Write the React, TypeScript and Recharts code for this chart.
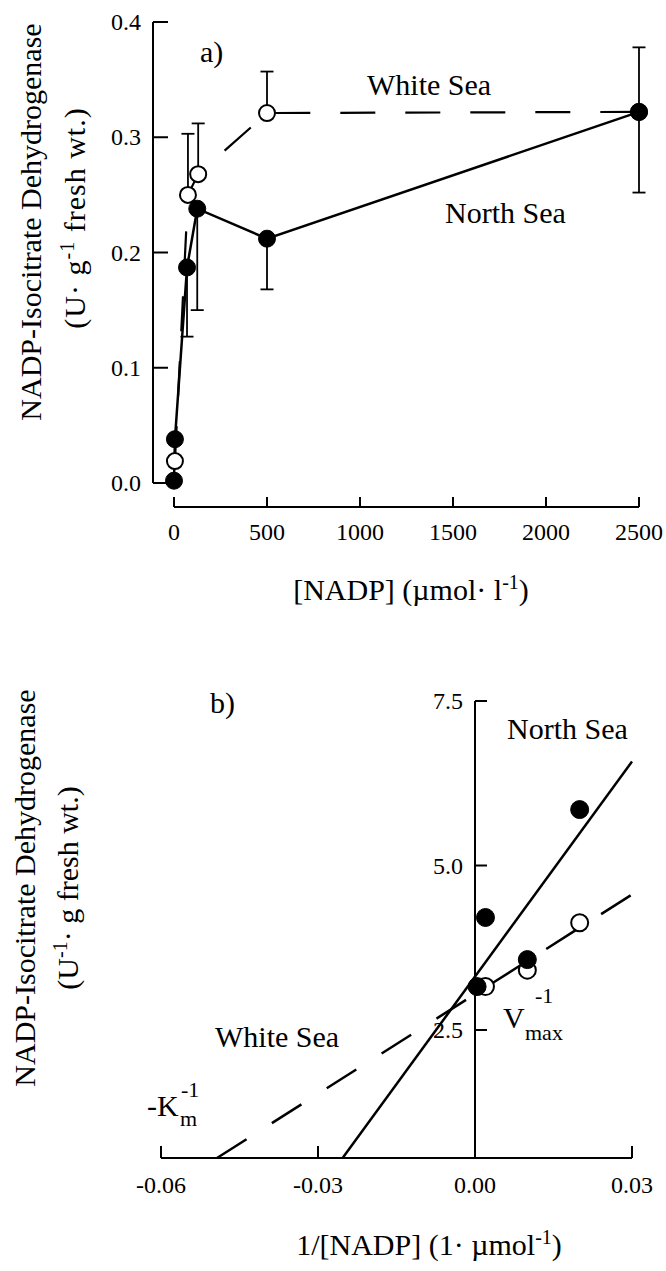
import React from 'react';
import { ComposedChart, Line, XAxis, YAxis, ErrorBar, ReferenceLine } from 'recharts';

// a) enzyme activity vs [NADP]
const nadpNorth = [0, 5, 70, 125, 500, 2500];
const actNorth = [0.002, 0.038, 0.187, 0.238, 0.212, 0.322];
const sdNorth = [null, null, 0.06, 0.088, 0.044, 0.07]; // drawn downward
const nadpWhite = [5, 75, 130, 500, 2500];
const actWhite = [0.019, 0.25, 0.268, 0.321, 0.322];
const sdWhite = [null, 0.053, 0.044, 0.036, 0.056]; // drawn upward
const xTicksA = [0, 500, 1000, 1500, 2000, 2500];
const yTicksA = [0, 0.1, 0.2, 0.3, 0.4];

// b) double reciprocal plot
const invNadpNorth = [0.0004, 0.002, 0.01, 0.02];
const invActNorth = [3.16, 4.21, 3.57, 5.85];
const invNadpWhite = [0.002, 0.01, 0.02];
const invActWhite = [3.16, 3.41, 4.13];
const fitXNorth = [-0.0253, 0.03];
const fitYNorth = [0.555, 6.58];
const fitXWhite = [-0.0493, 0.03];
const fitYWhite = [0.555, 4.56];
const xTicksB = [-0.06, -0.03, 0, 0.03];
const yTicksB = [2.5, 5.0, 7.5];

const FONT = "'Liberation Serif', 'Times New Roman', serif";
const tickText = { fontFamily: FONT, fontSize: 24, fill: '#000' };

const northA = nadpNorth.map((x, i) => ({ x, y: actNorth[i], err: sdNorth[i] == null ? null : [sdNorth[i], 0] }));
const whiteA = nadpWhite.map((x, i) => ({ x, y: actWhite[i], err: sdWhite[i] == null ? null : [0, sdWhite[i]] }));
const northB = invNadpNorth.map((x, i) => ({ x, y: invActNorth[i] }));
const whiteB = invNadpWhite.map((x, i) => ({ x, y: invActWhite[i] }));
const fitNorth = fitXNorth.map((x, i) => ({ x, y: fitYNorth[i] }));
const fitWhite = fitXWhite.map((x, i) => ({ x, y: fitYWhite[i] }));

const axisStyle = { stroke: '#000', strokeWidth: 2 };
const filledDot = { r: 8.5, fill: '#000', stroke: '#000', strokeWidth: 1, strokeDasharray: 'none' };
const openDot = { r: 8, fill: '#fff', stroke: '#000', strokeWidth: 2, strokeDasharray: 'none' };

const xTickA = (p: any) => (
  <text x={p.x} y={540} textAnchor="middle" style={tickText}>
    {p.payload.value}
  </text>
);
const yTickA = (p: any) => (
  <text x={141} y={p.y + 8} textAnchor="end" style={tickText}>
    {Number(p.payload.value).toFixed(1)}
  </text>
);
const xTickB = (p: any) => (
  <text x={p.x} y={553} textAnchor="middle" style={tickText}>
    {Number(p.payload.value).toFixed(2)}
  </text>
);
const yTickB = (p: any) => (
  <text x={463} y={p.y + 8} textAnchor="end" style={tickText}>
    {Number(p.payload.value).toFixed(1)}
  </text>
);

export default function App() {
  return (
    <div style={{ position: 'absolute', left: 0, top: 0, width: 666, height: 1271, background: '#fff' }}>
      <div style={{ position: 'absolute', left: 0, top: 0 }}>
        <ComposedChart width={666} height={640} margin={{ top: 22, right: 27, bottom: 156, left: 173 }}>
          <XAxis
            type="number"
            dataKey="x"
            domain={[0, 2500]}
            ticks={xTicksA}
            interval={0}
            height={1}
            tickSize={-10}
            axisLine={{ ...axisStyle, transform: 'translate(0,24)' }}
            tickLine={{ ...axisStyle, transform: 'translate(0,24)' }}
            tick={xTickA}
          />
          <YAxis
            type="number"
            domain={[0, 0.4]}
            ticks={yTicksA}
            interval={0}
            width={1}
            tickSize={-15}
            axisLine={{ ...axisStyle, transform: 'translate(-21,0)' }}
            tickLine={{ ...axisStyle, transform: 'translate(-21,0)' }}
            tick={yTickA}
          />
          <Line
            data={whiteA}
            dataKey="y"
            stroke="#000"
            strokeWidth={2.2}
            strokeDasharray="35 30"
            dot={openDot}
            activeDot={false}
            isAnimationActive={false}
          >
            <ErrorBar dataKey="err" width={6.5} stroke="#000" strokeWidth={1.8} direction="y" />
          </Line>
          <Line
            data={northA}
            dataKey="y"
            stroke="#000"
            strokeWidth={2.5}
            dot={filledDot}
            activeDot={false}
            isAnimationActive={false}
          >
            <ErrorBar dataKey="err" width={6.5} stroke="#000" strokeWidth={1.8} direction="y" />
          </Line>
        </ComposedChart>
      </div>

      <div style={{ position: 'absolute', left: 0, top: 640 }}>
        <ComposedChart width={666} height={631} margin={{ top: 61, right: 34, bottom: 112, left: 160 }}>
          <XAxis
            type="number"
            dataKey="x"
            domain={[-0.06, 0.03]}
            ticks={xTicksB}
            interval={0}
            height={1}
            tickSize={-12}
            axisLine={axisStyle}
            tickLine={axisStyle}
            tick={xTickB}
          />
          <YAxis
            type="number"
            domain={[0.555, 7.5]}
            ticks={yTicksB}
            interval={0}
            width={1}
            tickSize={-12}
            axisLine={false}
            tickLine={{ ...axisStyle, transform: 'translate(314,0)' }}
            tick={yTickB}
          />
          <ReferenceLine x={0} stroke="#000" strokeWidth={2} />
          <Line
            data={whiteB}
            dataKey="y"
            stroke="none"
            dot={{ r: 8.5, fill: '#fff', stroke: '#000', strokeWidth: 2 }}
            activeDot={false}
            isAnimationActive={false}
          />
          <Line
            data={fitWhite}
            dataKey="y"
            stroke="#000"
            strokeWidth={2.5}
            strokeDasharray="35 30"
            dot={false}
            activeDot={false}
            isAnimationActive={false}
          />
          <Line
            data={fitNorth}
            dataKey="y"
            stroke="#000"
            strokeWidth={2.5}
            dot={false}
            activeDot={false}
            isAnimationActive={false}
          />
          <Line
            data={northB}
            dataKey="y"
            stroke="none"
            dot={{ r: 9, fill: '#000', stroke: '#000', strokeWidth: 1 }}
            activeDot={false}
            isAnimationActive={false}
          />
        </ComposedChart>
      </div>

      <svg
        width={666}
        height={1271}
        style={{ position: 'absolute', left: 0, top: 0, pointerEvents: 'none', fontFamily: FONT }}
        fontSize={30}
        fill="#000"
      >
        {/* panel a */}
        <text x={200} y={62}>a)</text>
        <text x={367} y={95}>White Sea</text>
        <text x={445} y={223}>North Sea</text>
        <text x={411} y={600} textAnchor="middle">
          [NADP] (µmol· l<tspan dy={-11} fontSize={20}>-1</tspan>
          <tspan dy={11}>)</tspan>
        </text>
        <text transform="translate(41,222) rotate(-90)" textAnchor="middle">
          NADP-Isocitrate Dehydrogenase
        </text>
        <text transform="translate(85,218) rotate(-90)" textAnchor="middle" letterSpacing={1}>
          (U· g<tspan dy={-11} fontSize={20}>-1</tspan>
          <tspan dy={11}> fresh wt.)</tspan>
        </text>

        {/* panel b */}
        <text x={210} y={713}>b)</text>
        <text x={507} y={739}>North Sea</text>
        <text x={215} y={1047}>White Sea</text>
        <text x={147} y={1116}>-K</text>
        <text x={180} y={1126} fontSize={22}>m</text>
        <text x={181} y={1097} fontSize={22}>-1</text>
        <text x={503} y={1028}>V</text>
        <text x={525} y={1040} fontSize={22}>max</text>
        <text x={535} y={1003} fontSize={22}>-1</text>
        <text x={429} y={1255} textAnchor="middle">
          1/[NADP] (1· µmol<tspan dy={-11} fontSize={20}>-1</tspan>
          <tspan dy={11}>)</tspan>
        </text>
        <text transform="translate(35,888) rotate(-90)" textAnchor="middle">
          NADP-Isocitrate Dehydrogenase
        </text>
        <text transform="translate(78,888) rotate(-90)" textAnchor="middle">
          (U<tspan dy={-11} fontSize={20}>-1</tspan>
          <tspan dy={11}>· g fresh wt.)</tspan>
        </text>
      </svg>
    </div>
  );
}
